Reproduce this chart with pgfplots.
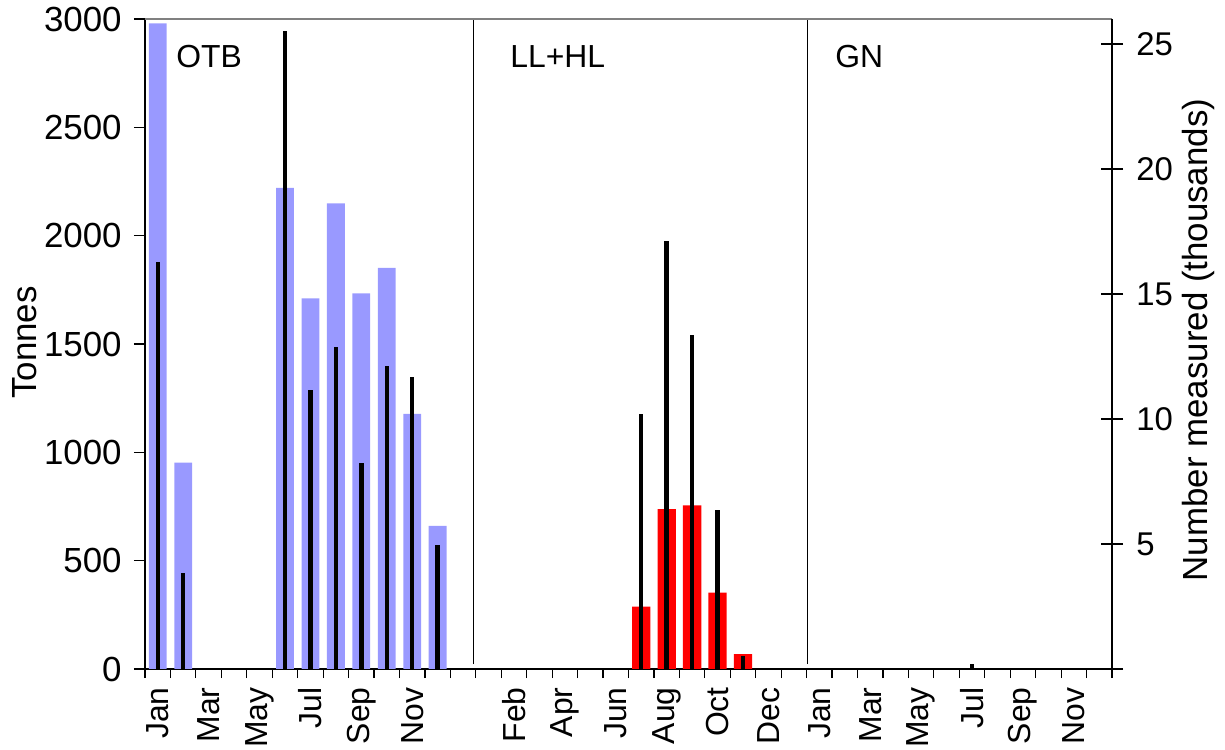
\documentclass[border=0pt]{standalone}
\usepackage{pgfplots}
\pgfplotsset{compat=1.18}
\usepackage{fontspec}
\setmainfont{Liberation Sans}
\definecolor{otb}{HTML}{9999FF}
\definecolor{llhl}{HTML}{FF0000}
\begin{document}
\begin{tikzpicture}
\useasboundingbox (0,0) rectangle (612.5bp,375bp);
\begin{axis}[
 at={(72.5bp,40.5bp)}, anchor=south west,
 scale only axis, width=483.5bp, height=325bp,
 xmin=-0.5, xmax=37.5, ymin=0, ymax=3000,
 axis x line*=bottom, axis y line*=left,
 axis line style={black, line width=0.6bp},
 tick align=outside, major tick length=5.5bp, minor tick length=4.5bp,
 tick style={black, line width=0.6bp},
 ytick={0,500,1000,1500,2000,2500,3000},
 yticklabels={0,500,1000,1500,2000,2500,3000},
 yticklabel style={font=\fontsize{17.5}{20}\selectfont, anchor=east, inner sep=0pt, xshift=-6bp},
 xtick={0,2,4,6,8,10,14,16,18,20,22,24,26,28,30,32,34,36},
 xticklabels={Jan,Mar,May,Jul,Sep,Nov,Feb,Apr,Jun,Aug,Oct,Dec,Jan,Mar,May,Jul,Sep,Nov},
 major x tick style={draw=none},
 minor xtick={-0.5,0.5,...,37.5},
 xticklabel style={font=\fontsize{16}{18}\selectfont, rotate=90, anchor=east, inner sep=0pt, xshift=-3.5bp},
]
\addplot[ybar, bar width=0.7, bar shift=0pt, fill=otb, draw=none] table {
x y
0 2980
1 952
5 2221
6 1711
7 2149
8 1734
9 1851
10 1178
11 660
};
\addplot[ybar, bar width=0.72, bar shift=0pt, fill=llhl, draw=none] table {
x y
19 288
20 738
21 755
22 352
23 69
};
\addplot[black, line width=0.6bp, forget plot] coordinates {(12.4,23) (12.4,2995)};
\addplot[black, line width=0.6bp, forget plot] coordinates {(25.52,23) (25.52,2995)};
\draw[gray, line width=0.6bp] (rel axis cs:0,1) -- (rel axis cs:1,1);
\end{axis}
\begin{axis}[
 at={(72.5bp,40.5bp)}, anchor=south west,
 scale only axis, width=483.5bp, height=325bp,
 xmin=-0.5, xmax=37.5, ymin=0, ymax=26,
 axis y line*=right, axis x line=none,
 axis line style={black, line width=0.6bp},
 tick align=center, major tick length=11bp,
 tick style={black, line width=0.6bp},
 ytick={0,5,10,15,20,25}, yticklabels={,5,10,15,20,25},
 yticklabel shift=6.5bp,
 yticklabel style={font=\fontsize{16.5}{19}\selectfont, anchor=west, inner sep=0pt},
]
\addplot[ycomb, black, line width=2.2bp, mark=none] table {
x y
0 16.29
1 3.83
5 25.53
6 11.16
7 12.87
8 8.25
9 12.12
10 11.67
11 4.96
19 10.21
20 17.12
21 13.37
22 6.35
23 0.52
32 0.2
};
\end{axis}
\node[rotate=90, anchor=base, inner sep=0pt, font=\fontsize{17.5}{20}\selectfont] at (18.3bp,203.75bp) {Tonnes};
\node[rotate=90, anchor=base, inner sep=0pt, font=\fontsize{17.5}{20}\selectfont] at (603.5bp,205bp) {Number measured (thousands)};
\node[anchor=west, inner sep=0pt, font=\fontsize{16}{18}\selectfont] at (88bp,346.5bp) {OTB};
\node[anchor=west, inner sep=0pt, font=\fontsize{16}{18}\selectfont] at (255bp,346.5bp) {LL+HL};
\node[anchor=west, inner sep=0pt, font=\fontsize{16}{18}\selectfont] at (417.5bp,346.5bp) {GN};
\end{tikzpicture}
\end{document}
